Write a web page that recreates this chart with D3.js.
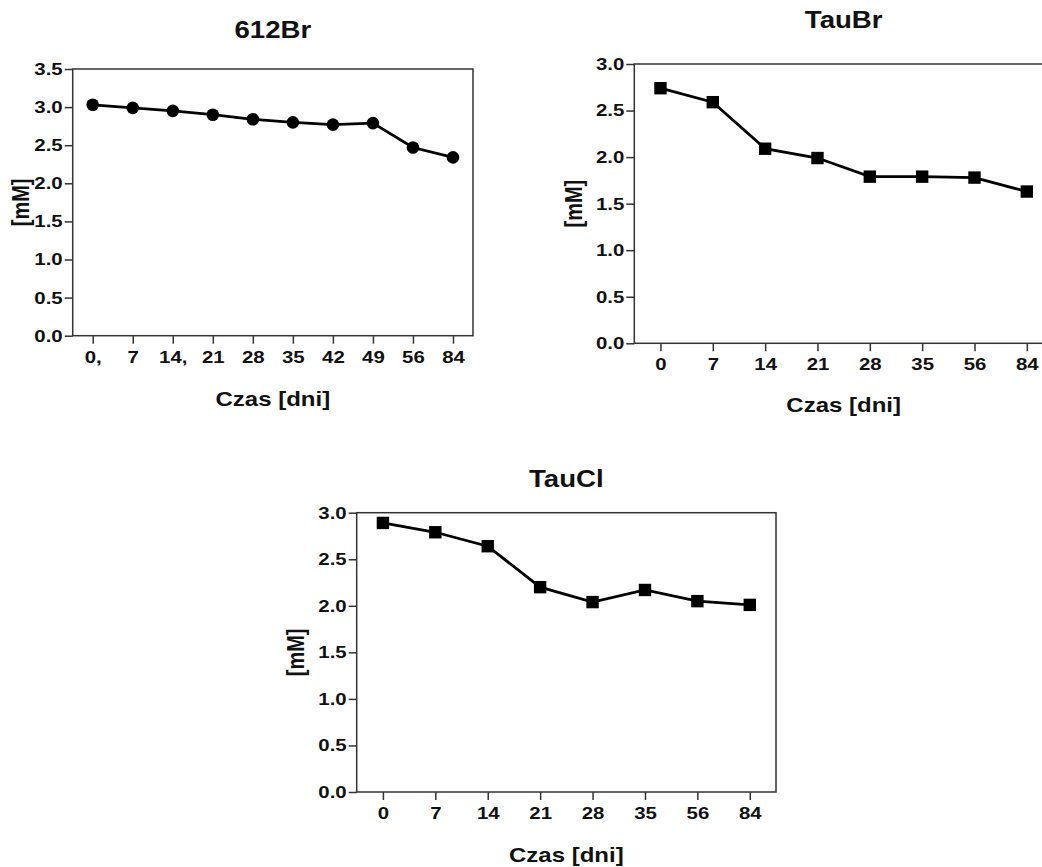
<!DOCTYPE html>
<html>
<head>
<meta charset="utf-8">
<script src="https://cdn.jsdelivr.net/npm/d3@7"></script>
<style>
  body { margin: 0; background: #fff; overflow: hidden; }
  svg { display: block; font-family: Arial, "Liberation Sans", sans-serif; font-weight: bold; }
  .tick line { stroke: #333; stroke-width: 1.5; }
  .tick text { fill: #111; font-size: 17px; font-weight: bold; font-family: Arial, "Liberation Sans", sans-serif; }
</style>
</head>
<body>
<svg id="chart" width="1042" height="867"></svg>
<script>
// data
const days612 = ['0,', '7', '14,', '21', '28', '35', '42', '49', '56', '84'];
const values612 = [3.03, 2.99, 2.95, 2.90, 2.84, 2.80, 2.77, 2.79, 2.47, 2.34];
const daysTau = ['0', '7', '14', '21', '28', '35', '56', '84'];
const valuesTauBr = [2.74, 2.59, 2.09, 1.99, 1.79, 1.79, 1.78, 1.63];
const valuesTauCl = [2.89, 2.79, 2.64, 2.20, 2.04, 2.17, 2.05, 2.01];

// the source image is stretched sideways, so text is too
const SX = 1.2;
const svg = d3.select('#chart');

const panels = [
  { title: '612Br', days: days612, values: values612, yMax: 3.5, marker: 'circle',
    left: 72.7, right: 473, top: 69, bottom: 335.7, titleY: 38, xTitleY: 406, yTitleX: 29 },
  { title: 'TauBr', days: daysTau, values: valuesTauBr, yMax: 3.0, marker: 'square',
    left: 634.3, right: 1053, top: 64, bottom: 343.3, titleY: 28, xTitleY: 412, yTitleX: 582 },
  { title: 'TauCl', days: daysTau, values: valuesTauCl, yMax: 3.0, marker: 'square',
    left: 356.7, right: 776, top: 512.7, bottom: 792, titleY: 487, xTitleY: 862, yTitleX: 304 }
];

const stretchedText = (g, x, y, txt, size, rotate) => g.append('text')
  .attr('transform', `translate(${x},${y}) scale(${SX},1)` + (rotate ? ' rotate(-90)' : ''))
  .attr('text-anchor', 'middle')
  .style('font-size', size + 'px')
  .attr('fill', '#111')
  .text(txt);

const drawPanel = p => {
  const g = svg.append('g');
  const x = d3.scalePoint().domain(p.days).range([p.left, p.right]).padding(0.5);
  const y = d3.scaleLinear().domain([0, p.yMax]).range([p.bottom, p.top]);
  const midX = (p.left + p.right) / 2;
  const midY = (p.top + p.bottom) / 2;

  const yAxis = g.append('g')
    .attr('transform', `translate(${p.left},0)`)
    .call(d3.axisLeft(y)
      .tickValues(d3.range(0, p.yMax + 0.01, 0.5))
      .tickFormat(d3.format('.1f'))
      .tickSize(8)
      .tickPadding(2));
  yAxis.select('.domain').remove();
  yAxis.selectAll('.tick text')
    .attr('x', -10 / SX)
    .attr('transform', `scale(${SX},1)`);

  const xAxis = g.append('g')
    .attr('transform', `translate(0,${p.bottom})`)
    .call(d3.axisBottom(x).tickSize(8).tickPadding(7));
  xAxis.select('.domain').remove();
  xAxis.selectAll('.tick text')
    .attr('transform', `scale(${SX},1)`);

  g.append('rect')
    .attr('x', p.left)
    .attr('y', p.top)
    .attr('width', p.right - p.left)
    .attr('height', p.bottom - p.top)
    .attr('fill', 'none')
    .attr('stroke', '#333')
    .attr('stroke-width', 1.5);

  const pts = p.days.map((d, i) => ({ day: d, value: p.values[i] }));

  g.append('path')
    .datum(pts)
    .attr('fill', 'none')
    .attr('stroke', '#000')
    .attr('stroke-width', 2.8)
    .attr('d', d3.line().x(d => x(d.day)).y(d => y(d.value)));

  if (p.marker === 'circle') {
    g.selectAll('circle.pt')
      .data(pts)
      .enter()
      .append('circle')
      .attr('class', 'pt')
      .attr('cx', d => x(d.day))
      .attr('cy', d => y(d.value))
      .attr('r', 6.3)
      .attr('fill', '#000');
  } else {
    g.selectAll('rect.pt')
      .data(pts)
      .enter()
      .append('rect')
      .attr('class', 'pt')
      .attr('x', d => x(d.day) - 6.2)
      .attr('y', d => y(d.value) - 6.2)
      .attr('width', 12.4)
      .attr('height', 12.4)
      .attr('fill', '#000');
  }

  stretchedText(g, midX, p.titleY, p.title, 23, false);
  stretchedText(g, midX, p.xTitleY, 'Czas [dni]', 20, false);
  stretchedText(g, p.yTitleX, midY, '[mM]', 20, true);
};

panels.forEach(drawPanel);
</script>
</body>
</html>
